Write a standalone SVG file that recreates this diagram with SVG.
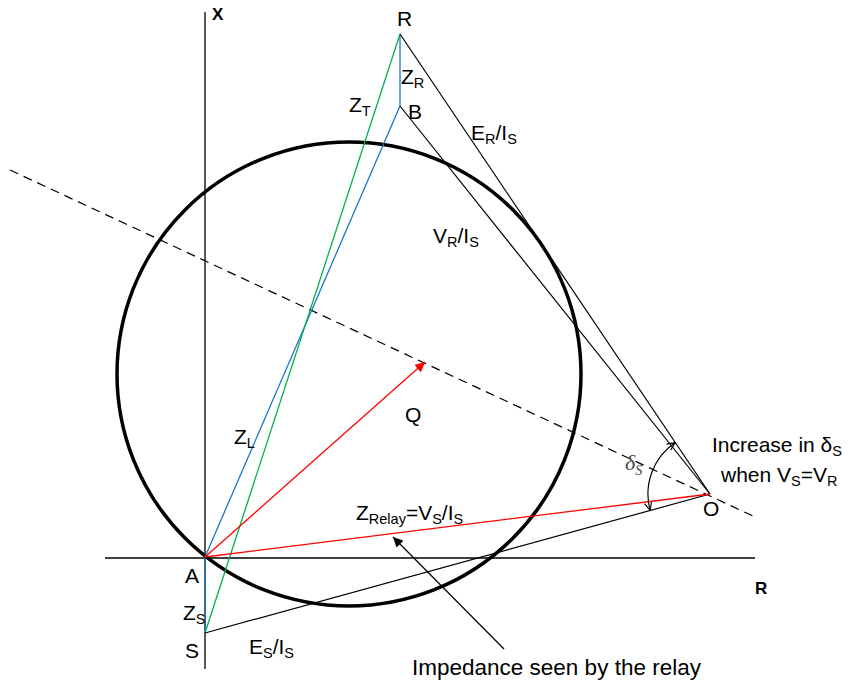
<svg xmlns="http://www.w3.org/2000/svg" width="849" height="685" viewBox="0 0 849 685">
<style>
text{font-family:"Liberation Sans",Arial,sans-serif;font-size:21px;fill:#000}
.sub{font-size:14.5px}
.ax{stroke:#000;stroke-width:1.3;fill:none}
.k{stroke:#000;stroke-width:1.2;fill:none}
.bl{stroke:#1f77c8;stroke-width:1.3;fill:none}
.gr{stroke:#00b050;stroke-width:1.3;fill:none}
.rd{stroke:#ff0000;stroke-width:1.3;fill:none}
</style>
<defs>
<marker id="ar" viewBox="0 0 10 10" refX="10" refY="5" markerWidth="10" markerHeight="10" markerUnits="userSpaceOnUse" orient="auto"><path d="M0,0 L10,5 L0,10 z" fill="#ff0000"/></marker>
<marker id="ak" viewBox="0 0 10 10" refX="10" refY="5" markerWidth="10" markerHeight="10" markerUnits="userSpaceOnUse" orient="auto"><path d="M0,0 L10,5 L0,10 z" fill="#000"/></marker>
<marker id="ao" viewBox="0 0 10 10" refX="10" refY="5" markerWidth="9" markerHeight="9" markerUnits="userSpaceOnUse" orient="auto-start-reverse"><path d="M1,1 L10,5 L1,9" fill="none" stroke="#000" stroke-width="1.2"/></marker>
</defs>
<g id="axes">
<line class="ax" x1="205" y1="12" x2="205" y2="669" stroke="#333"/>
<line class="ax" x1="105" y1="558" x2="755" y2="558"/>
<text x="212" y="20" style="font-weight:bold;font-size:17px">X</text>
<text x="755" y="594" style="font-weight:bold;font-size:17px">R</text>
</g>
<g id="circle">
<circle cx="349" cy="374" r="232" fill="none" stroke="#000" stroke-width="3.5"/>
</g>
<g id="connectors">
<line x1="10" y1="170" x2="755" y2="517" stroke="#000" stroke-width="1.2" stroke-dasharray="9,6"/>
<line class="bl" x1="205" y1="557" x2="205" y2="633" stroke-width="2.2"/>
<line class="bl" x1="205" y1="557" x2="400" y2="106"/>
<line class="bl" x1="400" y1="34" x2="400" y2="106" stroke-width="1.8"/>
<line class="gr" x1="205" y1="633" x2="400" y2="34"/>
<line class="k" x1="400" y1="34" x2="710" y2="494"/>
<line class="k" x1="400" y1="106" x2="710" y2="494"/>
<line class="k" x1="205" y1="633" x2="710" y2="494"/>
<line class="rd" x1="205" y1="557" x2="710" y2="494"/>
<line class="rd" x1="205" y1="557" x2="425" y2="362" marker-end="url(#ar)"/>
<line class="k" x1="504" y1="649" x2="393" y2="537" marker-end="url(#ak)"/>
<path class="k" d="M675.3 442.6 A62 62 0 0 0 650.2 510.5" marker-start="url(#ao)" marker-end="url(#ao)"/>
</g>
<g id="node-R"><text x="397" y="26">R</text></g>
<g id="node-B"><text x="408" y="119">B</text></g>
<g id="node-A"><text x="185" y="583">A</text></g>
<g id="node-S"><text x="185" y="658">S</text></g>
<g id="node-O"><text x="703" y="516">O</text></g>
<g id="node-Q"><text x="405" y="422">Q</text></g>
<g id="labels">
<text x="401" y="84">Z<tspan class="sub" dy="4">R</tspan></text>
<text x="349" y="112">Z<tspan class="sub" dy="4">T</tspan></text>
<text x="471" y="140">E<tspan class="sub" dy="4">R</tspan><tspan dy="-4">/I</tspan><tspan class="sub" dy="4">S</tspan></text>
<text x="433" y="243">V<tspan class="sub" dy="4">R</tspan><tspan dy="-4">/I</tspan><tspan class="sub" dy="4">S</tspan></text>
<text x="234" y="444">Z<tspan class="sub" dy="4">L</tspan></text>
<text x="183" y="620">Z<tspan class="sub" dy="4">S</tspan></text>
<text x="249" y="654">E<tspan class="sub" dy="4">S</tspan><tspan dy="-4">/I</tspan><tspan class="sub" dy="4">S</tspan></text>
<text x="356" y="520">Z<tspan class="sub" dy="4">Relay</tspan><tspan dy="-4">=V</tspan><tspan class="sub" dy="4">S</tspan><tspan dy="-4">/I</tspan><tspan class="sub" dy="4">S</tspan></text>
<text x="712" y="452">Increase in δ<tspan class="sub" dy="4">S</tspan></text>
<text x="721" y="482">when V<tspan class="sub" dy="4">S</tspan><tspan dy="-4">=V</tspan><tspan class="sub" dy="4">R</tspan></text>
<text x="412" y="675" style="font-size:22.5px">Impedance seen by the relay</text>
<text x="625" y="470" style="font-family:'Liberation Serif',serif;font-style:italic;font-size:22px;fill:#444">δ<tspan dy="5" style="font-size:14px">S</tspan></text>
</g>
</svg>
